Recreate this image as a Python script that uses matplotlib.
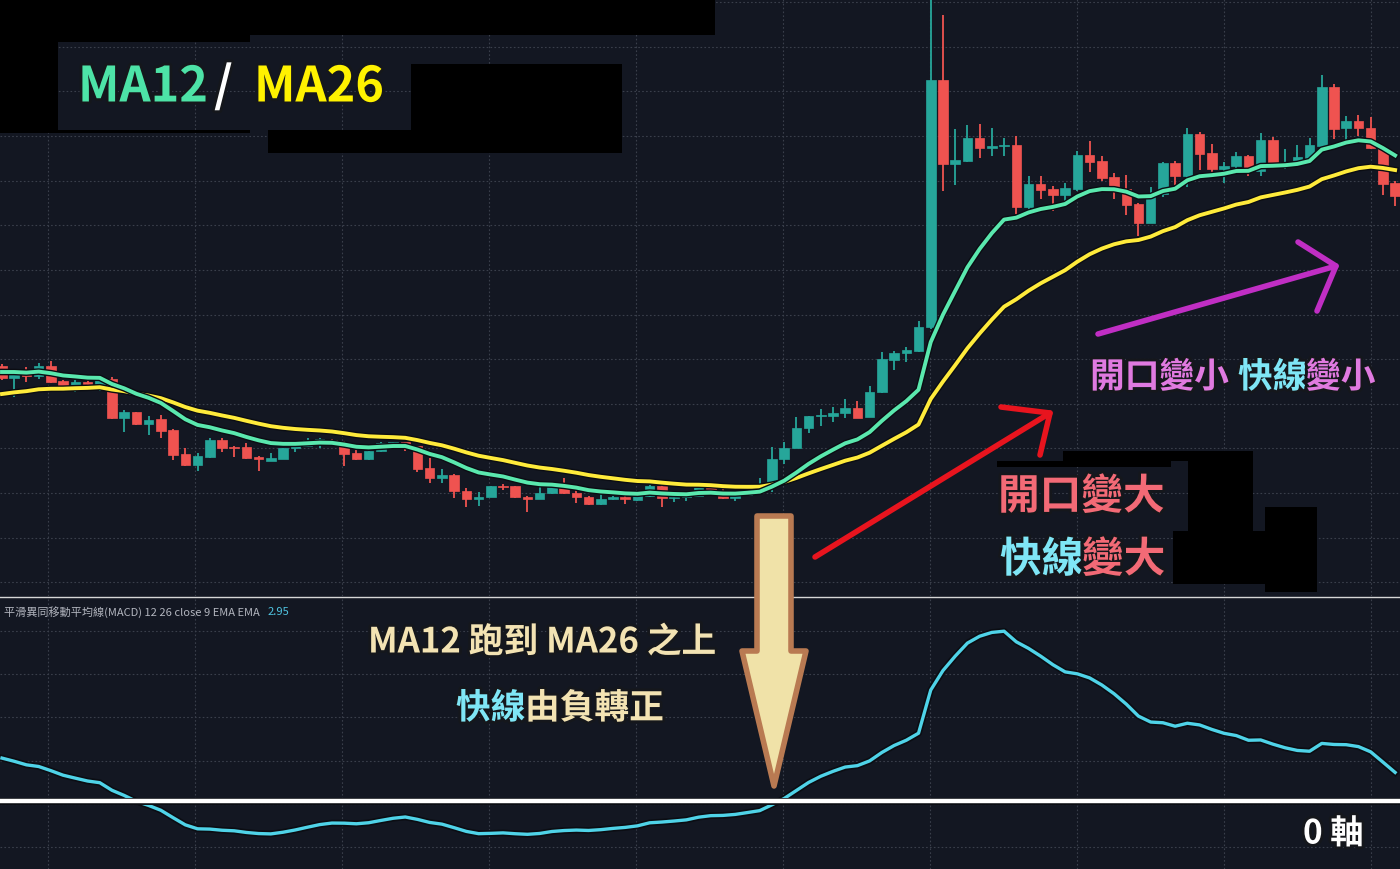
import numpy as np
import matplotlib
matplotlib.use("Agg")
import matplotlib.pyplot as plt
import matplotlib.patheffects as pe
from matplotlib.patches import Polygon, Rectangle
from matplotlib.lines import Line2D

plt.rcParams['font.family'] = ['Noto Sans CJK TC', 'DejaVu Sans']

# OHLC of every candle, left to right (price units)
opens = [23.3, 22.1, 22.7, 22.3, 23.3, 21.8, 21.1, 21.7, 21.5, 22.0,
         18.1, 18.7, 17.5, 18.0, 16.9, 14.5, 13.4, 14.2, 15.9, 15.2,
         15.2, 14.2, 13.8, 14.0, 15.1, 15.3, 15.8, 15.9, 15.6, 14.6,
         14.0, 14.8, 15.5, 15.7, 15.3, 13.1, 12.1, 12.4, 10.8, 10.0,
         10.2, 11.3, 11.3, 10.2, 10.0, 10.6, 11.2, 10.6, 10.2, 9.5,
         10.0, 10.2, 9.9, 10.3, 11.3, 10.1, 10.2, 10.3, 11.3, 10.8,
         10.1, 10.4, 11.1, 11.3, 14.0, 15.1, 17.1, 18.3, 18.3, 18.6,
         19.1, 18.2, 20.7, 23.9, 24.6, 24.8, 27.2, 51.9, 43.5, 43.8,
         46.1, 45.1, 45.3, 45.4, 39.2, 41.5, 41.0, 40.4, 41.0, 44.4,
         43.8, 42.2, 41.0, 39.5, 37.6, 40.5, 43.6, 42.3, 46.5, 44.6,
         43.0, 43.3, 44.3, 42.8, 45.9, 43.5, 43.7, 44.1, 45.3, 51.2,
         47.1, 47.8, 47.1, 45.1, 41.6]
highs = [23.5, 22.8, 23.2, 23.6, 23.8, 21.9, 21.9, 22.0, 22.2, 22.2,
         18.9, 18.7, 18.3, 18.4, 17.0, 15.1, 14.6, 16.1, 16.1, 15.3,
         15.6, 14.3, 14.6, 15.1, 15.7, 16.1, 16.1, 16.0, 15.8, 14.9,
         14.8, 15.7, 15.7, 15.7, 15.3, 14.1, 13.0, 12.5, 11.1, 10.7,
         11.3, 11.5, 11.3, 10.3, 11.4, 11.4, 12.1, 11.0, 10.3, 10.6,
         10.3, 10.6, 10.4, 11.4, 11.8, 10.3, 10.7, 11.4, 11.7, 11.1,
         10.6, 11.5, 12.1, 15.2, 15.7, 18.2, 18.3, 19.0, 19.2, 20.0,
         19.8, 21.3, 24.7, 24.8, 25.2, 27.8, 62.0, 58.4, 47.0, 47.4,
         47.5, 47.1, 46.1, 46.3, 42.3, 42.3, 41.3, 41.6, 44.8, 45.8,
         44.3, 42.6, 42.4, 39.6, 41.2, 43.7, 43.8, 47.1, 46.7, 45.5,
         43.7, 44.7, 44.4, 46.6, 46.2, 45.0, 45.4, 46.1, 52.4, 51.5,
         48.3, 48.4, 48.2, 45.3, 41.8]
lows = [21.9, 20.2, 21.7, 22.0, 21.6, 20.8, 20.7, 21.3, 20.8, 18.0,
        16.7, 17.4, 16.4, 16.1, 13.9, 13.3, 12.8, 14.1, 14.7, 14.2,
        14.0, 12.8, 13.8, 14.0, 14.7, 15.2, 15.1, 15.4, 13.3, 13.9,
        13.9, 14.7, 15.5, 14.8, 12.7, 11.6, 11.6, 10.1, 9.2, 9.3,
        10.2, 10.9, 10.1, 8.7, 10.0, 10.5, 10.5, 9.6, 9.4, 9.4,
        9.9, 9.5, 9.8, 10.2, 9.2, 9.7, 9.8, 10.3, 10.6, 10.0,
        9.8, 10.4, 11.0, 10.7, 13.5, 15.1, 16.6, 17.3, 17.7, 18.1,
        18.1, 18.2, 20.6, 22.9, 23.7, 24.7, 27.0, 40.8, 41.4, 43.7,
        44.1, 44.3, 44.3, 38.5, 38.5, 40.0, 38.8, 39.3, 40.8, 42.7,
        41.8, 40.0, 38.4, 36.3, 37.6, 40.2, 41.4, 41.2, 42.9, 42.3,
        41.6, 43.0, 42.3, 42.3, 43.4, 43.0, 43.6, 44.0, 45.2, 46.0,
        45.8, 46.3, 45.0, 40.4, 39.3]
closes = [22.1, 22.7, 22.3, 23.3, 21.7, 21.1, 21.7, 21.5, 22.0, 18.1,
          18.7, 17.5, 17.9, 16.8, 14.4, 13.4, 14.3, 15.9, 15.1, 15.1,
          14.1, 14.0, 14.1, 15.1, 15.5, 15.9, 16.0, 15.5, 14.5, 14.0,
          14.8, 15.6, 15.7, 15.3, 13.0, 12.1, 12.4, 10.8, 10.0, 10.2,
          11.3, 11.2, 10.2, 10.0, 10.6, 11.2, 10.6, 10.2, 9.5, 10.0,
          10.2, 10.0, 10.3, 11.3, 10.1, 10.2, 10.3, 11.3, 10.8, 10.1,
          10.5, 11.1, 11.3, 14.0, 15.1, 17.1, 18.3, 18.4, 18.6, 19.1,
          18.1, 20.7, 24.0, 24.6, 24.9, 27.2, 51.9, 43.5, 43.9, 46.1,
          45.1, 45.3, 45.4, 39.2, 41.5, 40.9, 40.4, 41.1, 44.4, 43.7,
          42.1, 40.9, 39.4, 37.6, 40.5, 43.6, 42.3, 46.5, 44.5, 43.0,
          43.3, 44.3, 42.9, 45.9, 43.5, 43.7, 44.2, 45.4, 51.2, 47.0,
          47.8, 47.1, 45.1, 41.5, 40.3]

# EMA values already running at the first visible candle
ema12_start = 22.7
ema26_start = 20.5

macd_header = "平滑異同移動平均線(MACD) 12 26 close 9 EMA EMA"
macd_last = "2.95"

BG = '#131722'
GRID = '#3a3f4b'
TEAL = '#26a69a'
RED = '#ef5350'
W, H = 1400, 870


def ema(values, span, start):
    a = 2 / (span + 1)
    out = [start]
    for v in values[1:]:
        out.append(out[-1] + a * (v - out[-1]))
    return np.array(out)


def fx(x):
    return x / W


def fy(y):
    return 1 - y / H


o, h, l, c = (np.array(v) for v in (opens, highs, lows, closes))
idx = np.arange(len(c))
ma12 = ema(c, 12, ema12_start)
ma26 = ema(c, 26, ema26_start)
macd = ma12 - ma26

fig = plt.figure(figsize=(14, 8.7), dpi=100)
fig.patch.set_facecolor(BG)

ax = fig.add_axes([0, fy(597), 1, 597 / H])
ax2 = fig.add_axes([0, 0, 1, 272 / H])

for a in (ax, ax2):
    a.set_facecolor(BG)
    for s in a.spines.values():
        s.set_visible(False)
    a.tick_params(length=0, labelbottom=False, labelleft=False)
    a.set_xticks(3.76 + 12.03 * np.arange(10))
    a.grid(True, color=GRID, linestyle=(0, (1.5, 2)), lw=0.8)
    a.set_axisbelow(True)
    a.set_xlim(-0.164, 114.4)

# price pane
ax.set_ylim(0.3, 60)
ax.set_yticks(59.7 - 4.465 * np.arange(14))
colors = np.where(c >= o, TEAL, RED)
ax.vlines(idx, l, h, colors=colors, lw=1.3, zorder=2)
ax.bar(idx, np.maximum(np.abs(c - o), 0.12), bottom=np.minimum(o, c), width=0.78,
       color=colors, edgecolor=colors, lw=0.5, zorder=3)
dark = [pe.Stroke(linewidth=4.8, foreground='#0b0d13'), pe.Normal()]
ax.plot(idx, ma26, color='#ffeb3b', lw=2.8, zorder=4, path_effects=dark)
ax.plot(idx, ma12, color='#5ae8ae', lw=2.8, zorder=5, path_effects=dark)

# MACD pane
k = 19.5
ax2.set_ylim(-(870 - 802) / k, (802 - 598) / k)
ax2.set_yticks([(802 - p) / k for p in (632, 675, 718, 762, 805, 848)])
ax2.plot(idx, macd, color='#4fd3e8', lw=2.4, zorder=3, path_effects=dark)
ax2.axhline(0, color='white', lw=3.2, zorder=4,
            path_effects=[pe.Stroke(linewidth=5, foreground='#0b0d13'), pe.Normal()])

fig.add_artist(Line2D([0, 1], [fy(597.5)] * 2, color='#d6d6d6', lw=1))

renderer = fig.canvas.get_renderer()
hdr = fig.text(fx(4), fy(612), macd_header, color='#b2b5be', fontsize=8, va='center')
hw = hdr.get_window_extent(renderer).width
fig.text(fx(4 + hw + 8), fy(612), macd_last, color='#4fc3e0', fontsize=8, va='center')

# black cover boxes
boxes = [(0, 0, 715, 36), (0, 0, 58, 134), (0, 0, 250, 43), (0, 131, 250, 134),
         (268, 131, 622, 154), (411, 65, 622, 154),
         (997, 462, 1171, 468), (1063, 452, 1237, 462), (1188, 452, 1253, 532),
         (1173, 532, 1265, 585), (1265, 508, 1317, 593)]
for x0, y0, x1, y1 in boxes:
    fig.add_artist(Rectangle((fx(x0), fy(y1)), (x1 - x0) / W, (y1 - y0) / H,
                             transform=fig.transFigure, color='black', lw=0, zorder=6))

# arrows
def stroke(points, color, lw):
    xs = [fx(p[0]) for p in points]
    ys = [fy(p[1]) for p in points]
    fig.add_artist(Line2D(xs, ys, color=color, lw=lw, solid_capstyle='round',
                          solid_joinstyle='round', zorder=7))


stroke([(815, 558), (1050, 414)], '#e8141e', 4)
stroke([(1001, 408), (1050, 414), (1040, 456)], '#e8141e', 4)
stroke([(1098, 335), (1336, 267)], '#c02ec4', 4)
stroke([(1298, 243), (1336, 267), (1317, 312)], '#c02ec4', 4)

down = [(757, 517), (791, 517), (791, 652), (806, 652), (774, 787), (742, 652), (757, 652)]
fig.add_artist(Polygon([(fx(x), fy(y)) for x, y in down], closed=True,
                       transform=fig.transFigure, facecolor='#f0e2a8',
                       edgecolor='#b97a52', lw=4, joinstyle='round', zorder=7))

# annotation texts
outline = [pe.withStroke(linewidth=4, foreground='#15171c')]


def label(x, y, s, color, size):
    fig.text(fx(x), fy(y), s, color=color, fontsize=size, fontweight='bold',
             va='center', ha='left', path_effects=outline, zorder=8)


GREEN_T, YEL_T = '#4de3a7', '#fff200'
PINK, CYAN, MAG, BEIGE = '#f36a76', '#7fe6f6', '#e07ae0', '#f3e3b3'

label(78, 88, 'MA12', GREEN_T, 35)
label(214, 88, '/', 'white', 35)
label(254, 88, 'MA26', YEL_T, 35)

label(1090, 378, '開口變小', MAG, 25)
label(1238, 378, '快線', CYAN, 25)
label(1306, 378, '變小', MAG, 25)

label(998, 498, '開口變大', PINK, 30)
label(1000, 561, '快線', CYAN, 30)
label(1082, 561, '變大', PINK, 30)

label(368, 643, 'MA12 跑到 MA26 之上', BEIGE, 25)
label(456, 709, '快線', CYAN, 25)
label(525, 709, '由負轉正', BEIGE, 25)
label(1303, 835, '0 軸', 'white', 24)

fig.savefig('out.png', dpi=100, facecolor=BG)
